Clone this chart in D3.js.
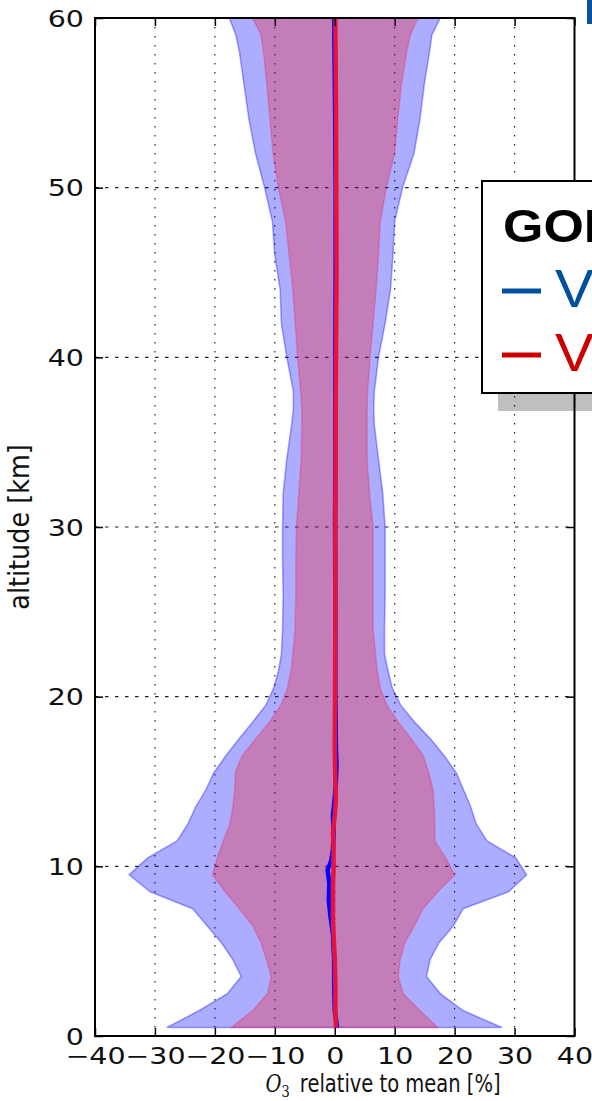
<!DOCTYPE html>
<html>
<head>
<meta charset="utf-8">
<script src="https://cdn.jsdelivr.net/npm/d3@7"></script>
<style>
  html, body { margin: 0; padding: 0; background: #fff; }
  svg { display: block; }
</style>
</head>
<body>
<svg id="chart" width="592" height="1101"></svg>
<script>
// Altitude levels [km] of the ozone deviation profiles
const altitude = [0.5, 1.5, 2.5, 3.5, 4.5, 5.5, 6.5, 7.5, 8.5, 9.5, 10.5, 11.5, 12.5, 13.5, 14.5,
  15.5, 16.5, 17.5, 18.5, 19.5, 20.5, 21.5, 22.5, 24, 26, 28, 30, 32, 34, 36, 37, 38, 40, 42, 44,
  46, 48, 50, 52, 54, 56, 58, 59, 60];

// Outer (blue) spread envelope, % relative to mean
const outerLow = [-28.0, -22.6, -17.9, -15.6, -17.0, -18.9, -21.3, -23.7, -30.8, -34.3, -31.2, -26.3,
  -24.5, -23.2, -21.5, -20.2, -18.2, -16.0, -13.7, -11.5, -10.2, -9.4, -8.9, -8.7, -8.6, -8.7, -8.7,
  -8.6, -8.0, -7.2, -6.9, -6.9, -8.0, -8.9, -9.1, -10.0, -10.4, -11.7, -13.2, -14.3, -15.1, -15.9,
  -16.5, -17.6];
const outerHigh = [27.9, 21.4, 17.6, 15.3, 15.9, 17.4, 19.8, 21.4, 29.0, 32.0, 30.2, 25.4, 23.6,
  22.7, 21.5, 20.3, 18.3, 16.0, 13.3, 11.0, 9.6, 8.9, 8.3, 8.3, 8.4, 8.4, 8.4, 8.0, 7.3, 6.6, 6.5,
  6.6, 7.3, 8.4, 9.3, 9.7, 10.0, 11.3, 13.2, 14.2, 14.9, 15.8, 16.2, 17.6];

// Inner (red) spread envelope, % relative to mean
const innerLow = [-17.3, -13.7, -11.2, -10.6, -11.4, -12.3, -13.7, -15.9, -18.3, -20.4, -19.6, -18.6,
  -17.5, -17.0, -16.7, -16.6, -15.5, -13.2, -10.9, -9.0, -7.9, -7.3, -7.0, -6.6, -6.5, -6.5, -6.4,
  -6.0, -5.6, -5.5, -5.5, -5.7, -6.2, -6.6, -7.0, -7.6, -8.2, -9.4, -10.3, -10.8, -11.3, -11.9,
  -12.3, -13.7];
const innerHigh = [17.2, 14.2, 11.4, 10.6, 10.9, 11.7, 13.3, 14.7, 17.2, 20.0, 18.5, 16.7, 16.7,
  16.6, 16.4, 15.7, 14.8, 12.8, 10.6, 8.7, 7.6, 7.1, 6.8, 6.4, 6.4, 6.4, 6.4, 5.8, 5.4, 5.4, 5.4,
  5.5, 5.9, 6.4, 6.9, 7.3, 7.6, 8.6, 10.0, 10.5, 11.1, 12.0, 12.6, 13.9];

// Mean deviation profiles
const lineAltitude = [0.5, 1.5, 3, 4.5, 6, 7, 8, 9, 9.8, 10.3, 11, 12, 13, 14, 15, 16, 17, 20, 25,
  30, 35, 40, 45, 50, 55, 60];
const blueMean = [0.4, 0.0, -0.1, -0.1, -0.3, -0.7, -1.0, -0.9, -1.2, -0.6, -0.3, -0.2, -0.3, 0.0,
  0.2, 0.3, 0.2, 0.1, 0.1, 0.05, 0.1, 0.1, 0.15, 0.15, 0.05, -0.1];
const redMean = [0.2, 0.1, 0.1, 0.0, -0.2, -0.3, -0.3, -0.3, -0.2, -0.2, -0.2, -0.3, 0.0, 0.2, 0.1,
  0.05, 0.0, 0.05, 0.1, 0.1, 0.15, 0.2, 0.3, 0.25, 0.2, 0.1];

const xTicks = [-40, -30, -20, -10, 0, 10, 20, 30, 40];
const yTicks = [0, 10, 20, 30, 40, 50, 60];

const svg = d3.select("#chart");
const pL = 95, pR = 574.5, pT = 18, pB = 1036;
const x = d3.scaleLinear().domain([-40, 40]).range([pL, pR]);
const y = d3.scaleLinear().domain([0, 60]).range([pB, pT]);
const tickStretch = 1.24;

svg.append("defs").append("clipPath").attr("id", "plotClip")
  .append("rect").attr("x", pL).attr("y", pT).attr("width", pR - pL).attr("height", pB - pT);

// grid
const grid = svg.append("g");
grid.selectAll("line.v").data(xTicks.slice(1, -1)).join("line").attr("class", "v")
  .attr("x1", d => x(d)).attr("x2", d => x(d)).attr("y1", pT).attr("y2", pB)
  .attr("stroke", "#222").attr("stroke-width", 1.2).attr("stroke-dasharray", "1.5,7.5");
grid.selectAll("line.h").data(yTicks.slice(1, -1)).join("line").attr("class", "h")
  .attr("y1", d => y(d)).attr("y2", d => y(d)).attr("x1", pL).attr("x2", pR)
  .attr("stroke", "#222").attr("stroke-width", 1.2).attr("stroke-dasharray", "3.5,6.5");

// spread envelopes
const outer = altitude.map((a, i) => ({a, lo: outerLow[i], hi: outerHigh[i]}));
const inner = altitude.map((a, i) => ({a, lo: innerLow[i], hi: innerHigh[i]}));
const area = d3.area().y(d => y(d.a)).x0(d => x(d.lo)).x1(d => x(d.hi));
const plot = svg.append("g").attr("clip-path", "url(#plotClip)");
plot.append("path").datum(outer).attr("d", area)
  .attr("fill", "rgba(0,0,255,0.32)").attr("stroke", "rgba(0,0,255,0.35)").attr("stroke-width", 1.6);
plot.append("path").datum(inner).attr("d", area)
  .attr("fill", "rgba(255,0,0,0.27)").attr("stroke", "rgba(255,0,60,0.25)").attr("stroke-width", 1.5);

// mean profiles
const line = d3.line().x(d => x(d.v)).y(d => y(d.a));
plot.append("path").datum(lineAltitude.map((a, i) => ({a, v: blueMean[i]})))
  .attr("d", line).attr("fill", "none").attr("stroke", "#0000ff").attr("stroke-width", 4.5);
plot.append("path").datum(lineAltitude.map((a, i) => ({a, v: redMean[i]})))
  .attr("d", line).attr("fill", "none").attr("stroke", "#e6123f").attr("stroke-width", 4.5);

// axes with inward ticks on all sides
const fmt = d3.format("d");
const axB = svg.append("g").attr("transform", `translate(0,${pB})`)
  .call(d3.axisBottom(x).tickValues(xTicks).tickFormat(fmt).tickSizeInner(-8).tickSizeOuter(0).tickPadding(11));
const axL = svg.append("g").attr("transform", `translate(${pL},0)`)
  .call(d3.axisLeft(y).tickValues(yTicks).tickFormat(fmt).tickSizeInner(-8).tickSizeOuter(0).tickPadding(11));
svg.append("g").attr("transform", `translate(0,${pT})`)
  .call(d3.axisTop(x).tickValues(xTicks).tickFormat("").tickSizeInner(-8).tickSizeOuter(0));
svg.append("g").attr("transform", `translate(${pR},0)`)
  .call(d3.axisRight(y).tickValues(yTicks).tickFormat("").tickSizeInner(-8).tickSizeOuter(0));
svg.selectAll(".domain").remove();
svg.selectAll(".tick line").attr("stroke", "#000").attr("stroke-width", 1.5);
[axB, axL].forEach(g => g.selectAll("text")
  .attr("font-family", "DejaVu Sans").attr("font-size", 23).attr("fill", "#111"));
axB.selectAll("text").attr("dy", "0.72em").attr("transform", `scale(${tickStretch},1)`);
axL.selectAll("text").attr("dy", "0.36em")
  .attr("transform", `scale(${tickStretch},1)`).attr("x", -11 / tickStretch);

// frame
svg.append("rect").attr("x", pL).attr("y", pT).attr("width", pR - pL).attr("height", pB - pT)
  .attr("fill", "none").attr("stroke", "#000").attr("stroke-width", 2);

// axis titles
const xt = svg.append("text").attr("text-anchor", "middle")
  .attr("transform", "translate(383,1092) scale(1,1.25)")
  .attr("font-family", "DejaVu Sans").attr("font-size", 19.5).attr("fill", "#111");
xt.append("tspan").attr("font-family", "DejaVu Serif").attr("font-style", "italic").text("O");
xt.append("tspan").attr("font-family", "DejaVu Serif").attr("font-size", 13).attr("dy", 4).text("3");
xt.append("tspan").attr("dy", -4).text("\u2009 relative to mean [%]");

svg.append("text").attr("text-anchor", "middle")
  .attr("transform", "translate(29,527) rotate(-90) scale(1.02,1.15)")
  .attr("font-family", "DejaVu Sans").attr("font-size", 25).attr("fill", "#111")
  .text("altitude [km]");

// corner bar
svg.append("rect").attr("x", 587).attr("y", 0).attr("width", 5).attr("height", 24).attr("fill", "#0b4f9f");

// legend
const lg = svg.append("g");
lg.append("rect").attr("x", 498).attr("y", 199).attr("width", 200).attr("height", 212)
  .attr("fill", "rgba(0,0,0,0.25)");
lg.append("rect").attr("x", 482).attr("y", 181).attr("width", 200).attr("height", 212)
  .attr("fill", "#fff").attr("stroke", "#000").attr("stroke-width", 2);
lg.append("text").attr("transform", `translate(503,242) scale(1.13,1)`)
  .attr("font-family", "Liberation Sans").attr("font-weight", "bold").attr("font-size", 46)
  .attr("fill", "#000").text("GOMOS");
const legendItems = [{c: "#0050a0", y: 291}, {c: "#cc0000", y: 355}];
legendItems.forEach(it => {
  lg.append("line").attr("x1", 502).attr("x2", 541).attr("y1", it.y).attr("y2", it.y)
    .attr("stroke", it.c).attr("stroke-width", 5);
  lg.append("text").attr("transform", `translate(555,${it.y + 16}) scale(1.1,1)`)
    .attr("font-family", "Liberation Sans").attr("font-size", 53).attr("fill", it.c).text("V");
});
</script>
</body>
</html>
